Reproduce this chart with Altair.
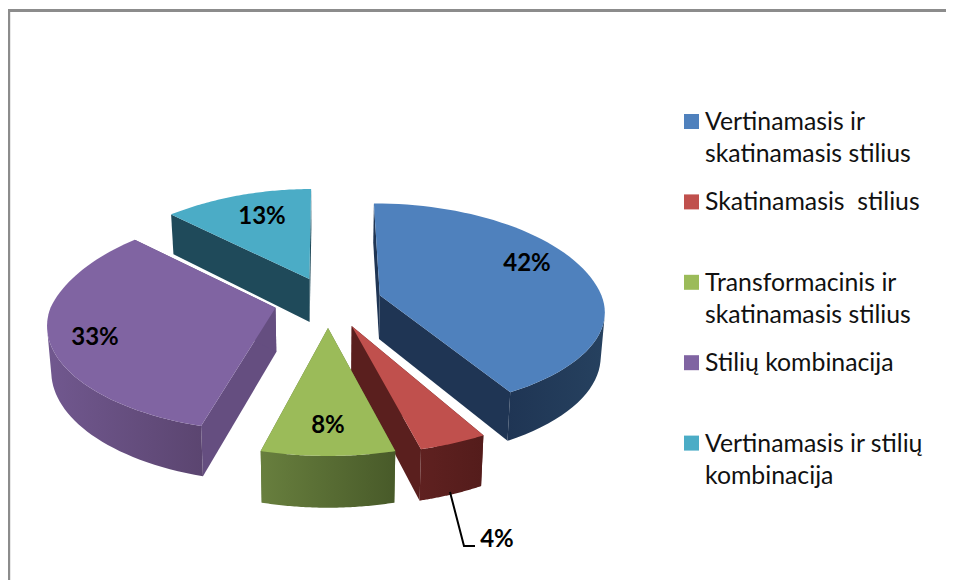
import math
import altair as alt

NAMES = ["Vertinamasis ir\nskatinamasis stilius", "Skatinamasis\u00a0 stilius",
         "Transformacinis ir\nskatinamasis stilius", "Stilių kombinacija",
         "Vertinamasis ir stilių\nkombinacija"]
VALUES = [42, 4, 8, 33, 13]
LABELS = ["42%", "4%", "8%", "33%", "13%"]
TOP = ["#4f81bd", "#c0504d", "#9bbb59", "#8064a2", "#4bacc6"]
WALL = [["#1f3554", "#26415f"], ["#5f2120", "#541c1b"], ["#687f3e", "#485a29"],
        ["#71588f", "#5b4570"], ["#1f4a5a", "#1f4a5a"]]
CUT = ["#1f3554", "#5a1f1e", "#5a6e33", "#654e80", "#1f4a5a"]

# layout of the tilted pie (page pixels)
W, H = 938, 572
OX, OY = 8, 8
CX, CY = 328, 301.5
A, B, P = 225, 105.7, 0.174
EXPLODE = 0.24
DEPTH0, DEPTH_SLOPE, SHRINK = 39, 0.05, 0.985
LABEL_POS = [(527, 264), (497, 540), (328, 426), (95, 338), (262, 217)]
# per-slice drawing corrections for the perspective of the 3-D pie
FRONT_SQUASH = [0.9, 1, 1, 0.97, 1]
BACK_LEAN = [0.065, 0, 0, 0, -0.02]
BACK_NARROW = [0, 0, 0, 0.058, 0.07]
BACK_RAISE = [1.02, 1, 1, 1.05, 1]
X_SCALE = [0.985, 1.03, 1, 1, 1]
APEX_SHIFT = [(0, 0), (3, 0), (0, 0), (0, -1), (2, 0)]
ANGLE_SHIFT = [(0, -1.2), (0, 0), (0, 0), (1.6, 0), (0, 0)]


def rim(theta, r=1.0):
    c, s = math.cos(theta), math.sin(theta)
    w = 1 + P * c * r
    return A * s * r / w, -B * c * r / w


def below(pt):
    x, y = pt
    return (CX + (x - CX) * SHRINK, y + DEPTH0 + DEPTH_SLOPE * (y - 200))


def shape(points):
    ring = [[x - OX, y - OY] for x, y in points]
    ring.append(ring[0])
    return {"type": "Feature", "properties": {}, "geometry": {"type": "Polygon", "coordinates": [ring]}}


def poly(points, fill):
    return alt.Chart(alt.Data(values=[shape(points)])).mark_geoshape(fill=fill, strokeWidth=0).project(
        type="identity", scale=1, translate=[0, 0])


def grad(c):
    return {"gradient": "linear", "x1": 0, "x2": 1, "y1": 0, "y2": 0,
            "stops": [{"offset": 0, "color": c[0]}, {"offset": 1, "color": c[1]}]}


total = sum(VALUES)
spans, a0 = [], 0.0
for v in VALUES:
    a1 = a0 + 2 * math.pi * v / total
    spans.append((a0, a1))
    a0 = a1

slices = {}
label_rows = []
for i, (t0, t1) in enumerate(spans):
    mid = (t0 + t1) / 2
    zx, zy = rim(mid, EXPLODE)
    apex = (CX + zx + APEX_SHIFT[i][0], CY + zy + APEX_SHIFT[i][1])
    t0 += math.radians(ANGLE_SHIFT[i][0])
    t1 += math.radians(ANGLE_SHIFT[i][1])
    n = 60
    arc = [t0 + (t1 - t0) * k / n for k in range(n + 1)]

    def point(t):
        dx, dy = rim(t)
        dx *= X_SCALE[i] * (1 - BACK_NARROW[i] * max(0.0, math.cos(t)))
        if dy > 0:
            dy *= FRONT_SQUASH[i]
        else:
            dx += BACK_LEAN[i] * dy
            dy *= BACK_RAISE[i]
        return (apex[0] + dx, apex[1] + dy)

    top_pts = [point(t) for t in arc]
    layers = []
    for edge in (top_pts[0], top_pts[-1]):
        layers.append(poly([apex, edge, below(edge), below(apex)], CUT[i]))
    front = [p for t, p in zip(arc, top_pts) if math.cos(t) < -P]
    if len(front) > 1:
        layers.append(poly(front + [below(p) for p in reversed(front)], grad(WALL[i])))
    layers.append(poly([apex] + top_pts, TOP[i]))
    slices[i] = layers
    label_rows.append({"x": LABEL_POS[i][0] - OX, "y": LABEL_POS[i][1] - OY, "t": LABELS[i]})

frame_color = "#8c8c8c"
frame_top = alt.Chart(alt.Data(values=[{}])).mark_rule(color=frame_color, strokeWidth=3).encode(
    x=alt.value(0), x2=alt.value(W), y=alt.value(2.5))
frame_left = alt.Chart(alt.Data(values=[{}])).mark_rule(color=frame_color, strokeWidth=2.4).encode(
    x=alt.value(1), y=alt.value(1), y2=alt.value(H))

pct = alt.Chart(alt.Data(values=label_rows)).mark_text(
    font="Lato", fontWeight="bold", fontSize=24, color="black", baseline="middle", align="center").encode(
    x=alt.X("x:Q", scale=None, axis=None), y=alt.Y("y:Q", scale=None, axis=None), text="t:N")

leader_rows = [{"x": 450 - OX, "y": 492 - OY, "o": 0}, {"x": 464 - OX, "y": 546 - OY, "o": 1},
               {"x": 475 - OX, "y": 546 - OY, "o": 2}]
leader = alt.Chart(alt.Data(values=leader_rows)).mark_line(color="black", strokeWidth=2).encode(
    x=alt.X("x:Q", scale=None, axis=None), y=alt.Y("y:Q", scale=None, axis=None), order="o:Q")

LEG_X, LEG_TEXT_X, LEG_Y0, LEG_STEP = 691.5, 705, 121.5, 80.4
leg_rows = [{"name": n, "x": LEG_X - OX, "tx": LEG_TEXT_X - OX, "y": LEG_Y0 + i * LEG_STEP - OY,
             "ty": LEG_Y0 + i * LEG_STEP + 8.5 - OY} for i, n in enumerate(NAMES)]
leg_data = alt.Data(values=leg_rows)
leg_sym = alt.Chart(leg_data).mark_square(size=225, opacity=1).encode(
    x=alt.X("x:Q", scale=None, axis=None), y=alt.Y("y:Q", scale=None, axis=None),
    color=alt.Color("name:N", scale=alt.Scale(domain=NAMES, range=TOP), legend=None))
leg_txt = alt.Chart(leg_data).mark_text(
    font="Lato", fontSize=24.8, color="#111111", align="left", baseline="alphabetic", lineBreak="\n", lineHeight=32).encode(
    x=alt.X("tx:Q", scale=None, axis=None), y=alt.Y("ty:Q", scale=None, axis=None), text="name:N")

order = [4, 0, 3, 1, 2]
parts = [frame_top, frame_left]
for i in order:
    parts.extend(slices[i])
parts.extend([leader, pct, leg_sym, leg_txt])

chart = alt.layer(*parts).resolve_scale(x="independent", y="independent", color="independent").properties(
    width=W, height=H, padding=0, autosize=alt.AutoSizeParams(type="none"), background="white"
).configure_view(stroke=None)

chart.save("out.html", embed_options={"renderer": "svg", "actions": False})
